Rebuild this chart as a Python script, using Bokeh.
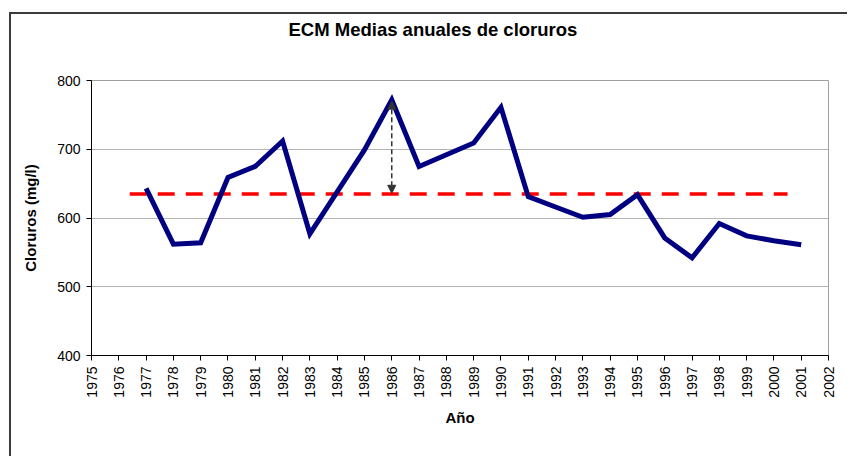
import math
from bokeh.plotting import figure
from bokeh.models import Title, Arrow, NormalHead, FixedTicker
from bokeh.embed import file_html
from bokeh.resources import INLINE

years = list(range(1977, 2002))
cloruros = [643, 562, 564, 659, 675, 712, 577, 638, 699, 772, 675, 692, 709,
            761, 631, 616, 601, 605, 634, 571, 542, 592, 574, 567, 561]
mean_value = 635
mean_span = [1976.4, 2000.5]
peak_year = 1986
x_ticks = list(range(1975, 2003))
y_ticks = [400, 500, 600, 700, 800]

FONT = "Liberation Sans"

p = figure(width=838, height=444, output_backend="svg", toolbar_location=None,
           x_range=(1975, 2002), y_range=(400, 800),
           min_border_left=80, min_border_right=21, min_border_top=66,
           min_border_bottom=103)
p.styles = {"margin-top": "12px", "margin-left": "9px",
            "border-top": "2px solid #3c3c3c", "border-left": "2px solid #3c3c3c"}

t = Title(text="ECM Medias anuales de cloruros", align="left", offset=197,
          text_font=FONT, text_font_size="18.5px", text_font_style="bold",
          text_color="black")
if "standoff" in Title.properties():
    t.standoff = 4
p.title = t

# invisible spacer between the title and the plot frame
spacer = Title(text=" ", text_font_size="1px")
if "standoff" in Title.properties():
    spacer.standoff = 36
p.add_layout(spacer, "above")

p.background_fill_color = "white"
p.border_fill_color = "white"
p.outline_line_color = "#a0a0a0"
p.outline_line_width = 1

p.xgrid.grid_line_color = None
p.ygrid.grid_line_color = "#b4b4b4"
p.ygrid.grid_line_width = 1

p.xaxis.ticker = FixedTicker(ticks=x_ticks)
p.yaxis.ticker = FixedTicker(ticks=y_ticks)
for ax in (p.xaxis[0], p.yaxis[0]):
    ax.axis_line_color = "black"
    ax.axis_line_width = 1
    ax.major_tick_line_color = "black"
    ax.major_tick_in = 0
    ax.major_tick_out = 5
    ax.minor_tick_line_color = None
    ax.major_label_text_font = FONT
    ax.major_label_text_font_size = "14px"
    ax.major_label_text_color = "black"
    ax.major_label_standoff = 6
    ax.axis_label_text_font = FONT
    ax.axis_label_text_font_size = "15px"
    ax.axis_label_text_font_style = "bold"
    ax.axis_label_text_color = "black"

p.xaxis.major_label_orientation = math.pi / 2
p.xaxis.axis_label = "Año"
p.xaxis.axis_label_standoff = 8
p.yaxis.axis_label = "Cloruros (mg/l)"
p.yaxis.axis_label_standoff = 15

p.line(mean_span, [mean_value, mean_value], line_color="#ff0000", line_width=3.5,
       line_dash="17 11")

p.add_layout(Arrow(start=NormalHead(size=8, fill_color="#333333", line_color="#333333"),
                   end=NormalHead(size=8, fill_color="#333333", line_color="#333333"),
                   x_start=peak_year, y_start=cloruros[years.index(peak_year)] - 2,
                   x_end=peak_year, y_end=mean_value + 1,
                   line_color="#333333", line_width=1.5, line_dash="5 3"))

p.line(years, cloruros, line_color="#000080", line_width=5, line_join="miter")

open("out.html", "w").write(file_html(p, INLINE))
